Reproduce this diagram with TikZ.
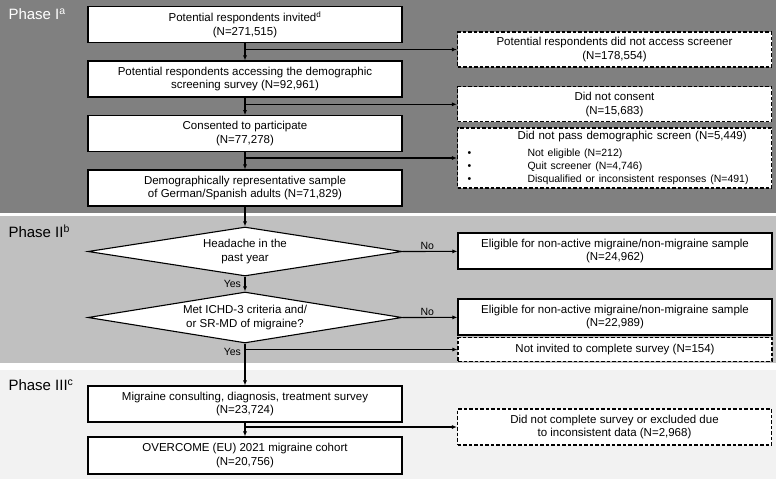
\documentclass[tikz,border=0pt]{standalone}
\usepackage{fontspec}
\setmainfont{Liberation Sans}
\usetikzlibrary{shapes.geometric,arrows.meta}

\definecolor{phaseone}{HTML}{808080}
\definecolor{phasetwo}{HTML}{C0C0C0}
\definecolor{phasethree}{HTML}{F2F2F2}

\newcommand{\phasename}[2]{Phase #1\textsuperscript{#2}}
\newcommand{\smalltext}{\fontsize{10.5}{12.5}\selectfont}
\newcommand{\bulletitem}{\makebox[60pt][l]{\textbullet}}

\begin{document}
\begin{tikzpicture}[x=1pt, y=-1pt,
  every node/.style={align=center, font=\fontsize{11.5}{13.6}\selectfont},
  box/.style={draw, fill=white, line width=1.1pt, minimum width=314pt, minimum height=36pt, inner sep=2pt},
  exclbox/.style={box, dash pattern=on 3.5pt off 2pt},
  decide/.style={draw, fill=white, diamond, line width=1.1pt, inner sep=0pt, aspect=6.4, minimum width=314pt},
  phaselabel/.style={anchor=west, font=\fontsize{15}{17}\selectfont},
  flow/.style={line width=1.1pt, -{Latex[length=5pt, width=4pt]}},
  answer/.style={font=\smalltext, inner sep=1.5pt}]
  \useasboundingbox (0,0) rectangle (778,479);

  % phase panels
  \fill[phaseone] (0,0) rectangle (776,212.5);
  \fill[phasetwo] (0,216) rectangle (776,363);
  \fill[phasethree] (0,370) rectangle (776,479);

  \node[phaselabel, text=white] (P1) at (5,14) {\phasename{I}{a}};
  \node[phaselabel] (P2) at (5,231) {\phasename{II}{b}};
  \node[phaselabel] (P3) at (5,385) {\phasename{III}{c}};

  % Phase I
  \node[box]
    (inv) at (245, 24.5)
    {Potential respondents invited\textsuperscript{d}\\
    (N=271,515)};

  \node[box]
    (acc) at (245, 79)
    {Potential respondents accessing the demographic\\
    screening survey (N=92,961)};

  \node[box]
    (con) at (245, 133.7)
    {Consented to participate\\
    (N=77,278)};

  \node[box]
    (rep) at (245, 188)
    {Demographically representative sample\\
    of German/Spanish adults (N=71,829)};

  \node[exclbox, minimum height=35pt]
    (noacc) at (614.5, 49.5)
    {Potential respondents did not access screener\\
    (N=178,554)};

  \node[exclbox, minimum height=35pt]
    (nocon) at (614.5, 104.3)
    {Did not consent\\
    (N=15,683)};

  \node[exclbox, minimum height=60pt, align=left, text width=294pt]
    (nopass) at (614.5, 158)
    {\hspace*{50pt}Did not pass demographic screen (N=5,449)\\[4.5pt]
    \smalltext\bulletitem Not eligible (N=212)\\
    \bulletitem Quit screener (N=4,746)\\
    \bulletitem Disqualified or inconsistent responses (N=491)};

  % Phase II
  \node[decide, minimum height=49pt]
    (hd) at (245, 251.5)
    {Headache in the\\
    past year};

  \node[decide, minimum height=51pt]
    (met) at (245, 317.5)
    {Met ICHD-3 criteria and/\\
    or SR-MD of migraine?};

  \node[box]
    (elig1) at (615, 251)
    {Eligible for non-active migraine/non-migraine sample\\
    (N=24,962)};

  \node[box]
    (elig2) at (615, 317)
    {Eligible for non-active migraine/non-migraine sample\\
    (N=22,989)};

  \node[exclbox, minimum height=23.5pt]
    (noinv) at (615, 349.5)
    {Not invited to complete survey (N=154)};

  % Phase III
  \node[box]
    (surv) at (245, 404)
    {Migraine consulting, diagnosis, treatment survey\\
    (N=23,724)};

  \node[box, minimum height=37pt]
    (coh) at (245, 455.5)
    {OVERCOME (EU) 2021 migraine cohort\\
    (N=20,756)};

  \node[exclbox]
    (nocomp) at (614.5, 427)
    {Did not complete survey or excluded due\\
    to inconsistent data (N=2,968)};

  % connectors
  \draw[flow] (inv) -- (acc);
  \draw[flow] (acc) -- (con);
  \draw[flow] (con) -- (rep);
  \draw[flow] (rep) -- (hd);
  \draw[flow] (hd) -- node[answer, left, xshift=-2pt] {Yes} (met);
  \draw[flow] (met) -- node[answer, pos=0.21, left, xshift=-2pt] {Yes} (surv);
  \draw[flow] (surv) -- (coh);

  \draw[flow] (inv.south |- noacc) -- (noacc);
  \draw[flow] (acc.south |- nocon) -- (nocon);
  \draw[flow] (con.south |- nopass) -- (nopass);
  \draw[flow] (hd.east) -- node[answer, above, pos=0.45] {No} (elig1);
  \draw[flow] (met.east) -- node[answer, above, pos=0.45] {No} (elig2);
  \draw[flow] (met.south |- noinv) -- (noinv);
  \draw[flow] (surv.south |- nocomp) -- (nocomp);

\end{tikzpicture}
\end{document}
